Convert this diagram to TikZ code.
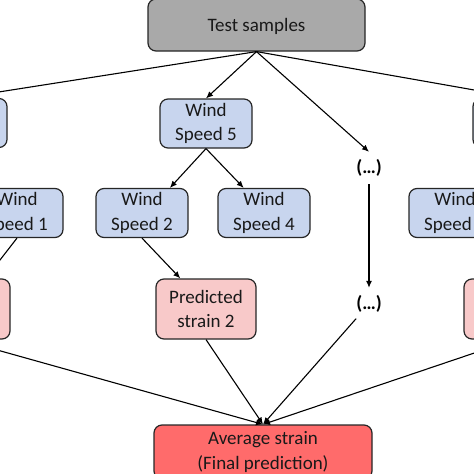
\documentclass[tikz,border=0pt]{standalone}
\usepackage{fontspec}
\setmainfont{Carlito}
\usetikzlibrary{arrows.meta}

\definecolor{samplegray}{HTML}{A9A9A9}
\definecolor{windblue}{HTML}{C8D5EE}
\definecolor{strainpink}{HTML}{F8C9C9}
\definecolor{avgred}{HTML}{FF6B6B}

\begin{document}
\begin{tikzpicture}[x=1pt, y=-1pt]
  \tikzstyle{o} = [draw=black!85, line width=1.2pt, rounded corners=8pt,
  align=center, inner sep=0pt, text=black!90,
  font=\fontsize{19}{24.5}\selectfont];
  \tikzstyle{g} = [fill=samplegray, minimum width=217pt, minimum height=52pt,
  text depth=0pt];
  \tikzstyle{w} = [fill=windblue, minimum width=92pt, minimum height=49pt];
  \tikzstyle{p} = [fill=strainpink, minimum width=100pt, minimum height=60pt];
  \tikzstyle{f} = [fill=avgred, minimum width=218pt, minimum height=54pt];
  \tikzstyle{d} = [inner sep=0pt, minimum height=32pt,
  font=\fontsize{19}{24.5}\selectfont\bfseries];
  \tikzstyle{a} = [line width=1.1pt, -{Latex[length=7pt, width=6pt]}];

  \useasboundingbox (0,0) rectangle (474,474);
  \clip (0,0) rectangle (474,474);

  \node[o,g] (ts) at (256.5, 25) {Test samples};

  \node[o,w] (w0) at (-39, 123) {};
  \node[o,w] (w5) at (206, 123.5) {Wind\\Speed 5};
  \node[d] (d1) at (369, 168) {(…)};
  \node[o,w] (w6) at (519, 123) {};

  \node[o,w] (w1) at (17, 213) {Wind\\Speed 1};
  \node[o,w] (w2) at (142, 213) {Wind\\Speed 2};
  \node[o,w] (w4) at (264, 213) {Wind\\Speed 4};
  \node[o,w] (w7) at (455, 213) {Wind\\Speed~\phantom{0}};

  \node[o,p] (p1) at (-40, 309) {};
  \node[o,p] (p2) at (206, 309) {Predicted\\strain 2};
  \node[d] (d2) at (369, 304) {(…)};
  \node[o,p] (p3) at (514, 309) {};

  \node[o,f] (avg) at (263, 452) {Average strain\\(Final prediction)};

  \draw[a] (ts.south) to (w0.north);
  \draw[a] (ts.south) to (w5.north);
  \draw[a] (ts.south) to (d1.north);
  \draw[a] (ts.south) to (w6.north);

  \draw[a] (w5.south) to (w2.42);
  \draw[a] (w5.south) to (w4.129);
  \draw[a] (w1.south) to (p1.50);
  \draw[a] (w2.south) to (p2.130);
  \draw[a] (d1) to (d2);

  \draw[a] (p1.south) to (avg.north);
  \draw[a] (p2.south) to (avg.north);
  \draw[a] (d2) to (avg.north);
  \draw[a] (p3.south) to (avg.north);
\end{tikzpicture}
\end{document}
